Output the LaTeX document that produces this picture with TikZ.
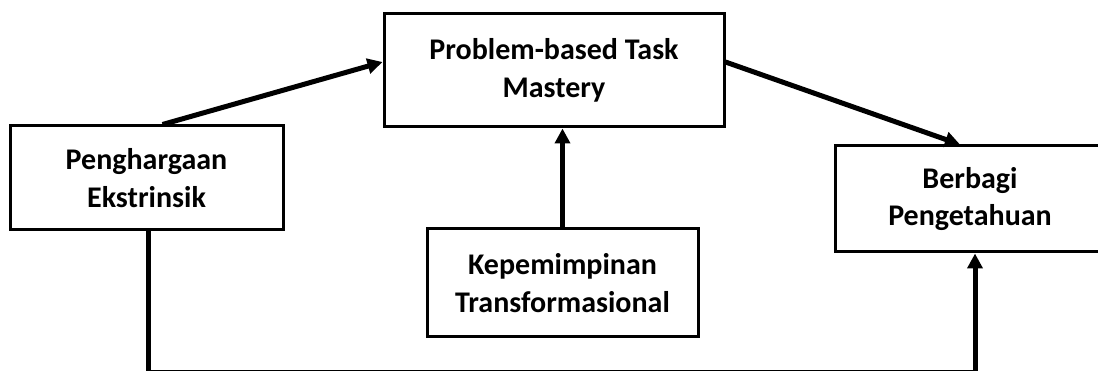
\documentclass[tikz,border=0pt]{standalone}
\usepackage{fontspec}
\setmainfont{Carlito}
\usetikzlibrary{arrows.meta}
\begin{document}
\begin{tikzpicture}[x=1pt,y=-1pt,
  boxstyle/.style={draw=black,line width=3pt,fill=white,inner sep=0pt,align=center,
    font=\fontsize{30}{37.5}\selectfont\bfseries},
  conn/.style={line width=5pt,-{Triangle[length=15pt,width=15pt]}}]
\useasboundingbox (0,0) rectangle (1098,371);
\node[boxstyle,minimum width=273pt,minimum height=104pt] (pen) at (146.5,178) {Penghargaan\\Ekstrinsik};
\node[boxstyle,minimum width=340pt,minimum height=113pt] (ptm) at (554,70.5) {Problem-based Task\\Mastery};
\node[boxstyle,minimum width=271pt,minimum height=108pt] (kt) at (562.5,283) {Kepemimpinan\\Transformasional};
\node[boxstyle,minimum width=270pt,minimum height=106pt] (bp) at (970,199) {Berbagi\\Pengetahuan};
\draw[conn] ([xshift=16pt]pen.north) -- ([yshift=8.5pt]ptm.west);
\draw[conn] ([yshift=8.5pt]ptm.east) -- ([xshift=-10pt]bp.north);
\draw[conn] (kt.north) -- (kt.north |- ptm.south);
\coordinate (bl) at ([xshift=1.5pt]pen.south |- 0,372);
\draw[conn] ([xshift=1.5pt]pen.south) -- (bl) -| ([xshift=5pt]bp.south);
\end{tikzpicture}
\end{document}
